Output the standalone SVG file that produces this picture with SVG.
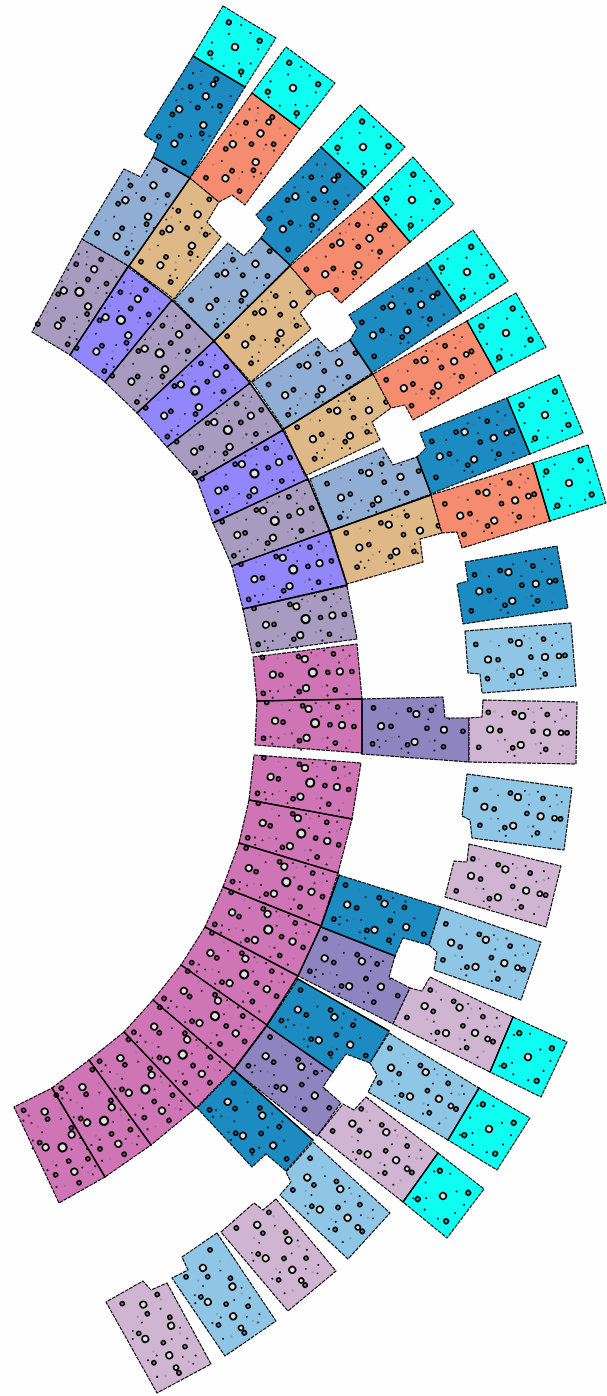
<svg xmlns="http://www.w3.org/2000/svg" width="607" height="1396" viewBox="0 0 607 1396">
<style>
polygon{stroke:#000;stroke-width:1.1;stroke-dasharray:4 .9;stroke-linejoin:round}
.cy{fill:#10fff2}.bl{fill:#1a8bc2}.or{fill:#f58c6f}.st{fill:#90aed3}.ta{fill:#deb887}.gr{fill:#a79bbf}.vi{fill:#9286fa}.pk{fill:#cf74b5}.pu{fill:#8e85c0}.lb{fill:#8fc5e5}.li{fill:#cfb5d1}
.w{fill:#e4e4e4;stroke:#000;stroke-width:1.7}
.k{fill:#444;fill-opacity:.5;stroke:#000;stroke-width:1.6}
.t{fill:#000}
.f{fill:#666;opacity:.35}
.seam{fill:none;stroke:#000;stroke-width:1.5;stroke-linecap:round;stroke-linejoin:round}
</style>
<defs>
<filter id="soft" x="-2%" y="-2%" width="104%" height="104%"><feGaussianBlur stdDeviation="0.55"/></filter>
<g id="tiny">
<circle class="t" cx="19" cy="-23" r="1"/><circle class="t" cx="19" cy="12" r="1"/><circle class="t" cx="19" cy="22" r="1"/><circle class="t" cx="-7" cy="25" r="1"/><circle class="t" cx="-20" cy="-14" r=".9"/><circle class="t" cx="-14" cy="21" r=".9"/><circle class="t" cx="6" cy="-22" r=".9"/><circle class="t" cx="33" cy="-10" r=".9"/><circle class="t" cx="12" cy="-9" r=".9"/><circle class="t" cx="-17" cy="9" r=".9"/>
<circle class="f" cx="-28" cy="-19" r="1.2"/><circle class="f" cx="11" cy="-19" r="1.2"/><circle class="f" cx="14" cy="13" r="1.2"/><circle class="f" cx="-24" cy="10" r="1.2"/>
</g>
<g id="tiny-in"><circle class="t" cx="-38" cy="13" r="1"/><circle class="t" cx="-36" cy="20" r="1"/><circle class="t" cx="-30" cy="14" r=".9"/></g>
<g id="tiny-out"><circle class="t" cx="38" cy="-22" r="1"/><circle class="t" cx="38" cy="22" r="1"/><circle class="t" cx="44" cy="-16" r=".9"/><circle class="f" cx="40" cy="-13" r="1.2"/><circle class="f" cx="41" cy="14" r="1.2"/></g>
<g id="p1">
<use href="#tiny"/><use href="#tiny-in"/><use href="#tiny-out"/>
<circle class="w" cx="-34" cy="-3" r="3.2"/><circle class="w" cx="-1" cy="-16" r="3.2"/><circle class="w" cx="-2" cy="13" r="3.2"/><circle class="w" cx="33" cy="-1" r="3.2"/>
<circle class="w" cx="6" cy="-2" r="4" style="stroke-width:2.2"/>
<circle class="k" cx="-43" cy="-21" r="2"/><circle class="k" cx="-7" cy="-19" r="2"/><circle class="k" cx="-26" cy="-2" r="2"/><circle class="k" cx="21" cy="-1" r="2"/><circle class="k" cx="45" cy="0" r="2"/><circle class="k" cx="28" cy="-19" r="2"/><circle class="k" cx="-45" cy="15" r="2"/><circle class="k" cx="-9" cy="16" r="2"/><circle class="k" cx="27" cy="17" r="2"/>
</g>
<g id="p2c">
<use href="#tiny"/><use href="#tiny-in"/>
<circle class="w" cx="-35" cy="-1" r="3.2"/><circle class="w" cx="0" cy="-14" r="3.2"/><circle class="w" cx="-1" cy="14" r="3.2"/><circle class="w" cx="28" cy="1" r="3.2"/>
<circle class="k" cx="-25" cy="-1" r="2"/><circle class="k" cx="-7" cy="-18" r="2"/><circle class="k" cx="-43" cy="-19" r="2"/><circle class="k" cx="-43" cy="17" r="2"/><circle class="k" cx="-8" cy="17" r="2"/><circle class="k" cx="11" cy="0" r="2"/><circle class="k" cx="47" cy="2" r="2"/>
</g>
<g id="p2"><use href="#p2c"/><circle class="k" cx="15" cy="-18" r="2"/><circle class="k" cx="28" cy="18" r="2"/></g>
<g id="p2n"><use href="#p2c"/><circle class="k" cx="20" cy="-17" r="2"/><circle class="k" cx="16" cy="19" r="2"/></g>
<g id="p3c">
<use href="#tiny"/><use href="#tiny-out"/>
<circle class="w" cx="-32" cy="-1" r="3.2"/><circle class="w" cx="0" cy="-15" r="3.2"/><circle class="w" cx="-1" cy="14" r="3.2"/><circle class="w" cx="25" cy="1" r="3.2"/>
<circle class="w" cx="39" cy="1" r="2.4"/><circle class="k" cx="45" cy="1" r="2.1"/>
<circle class="k" cx="-22" cy="0" r="2"/><circle class="k" cx="-8" cy="-18" r="2"/><circle class="k" cx="25" cy="-17" r="2"/><circle class="k" cx="-9" cy="17" r="2"/><circle class="k" cx="11" cy="0" r="2"/><circle class="k" cx="24" cy="18" r="2"/>
</g>
<g id="p3"><use href="#p3c"/><circle class="k" cx="-34" cy="-18" r="2"/><circle class="k" cx="-43" cy="17" r="2"/></g>
<g id="p3m"><use href="#p3c"/><circle class="k" cx="-34" cy="18" r="2"/><circle class="k" cx="-43" cy="-17" r="2"/></g>
<g id="p4">
<circle class="w" cx="0" cy="0" r="3.2"/>
<circle class="k" cx="18" cy="-18" r="2.3"/><circle class="k" cx="18" cy="18" r="2.3"/><circle class="k" cx="-18" cy="-18" r="2.3"/><circle class="k" cx="-18" cy="18" r="2.3"/>
<circle class="t" cx="-8" cy="-22" r="1"/><circle class="t" cx="-22" cy="0" r="1"/><circle class="t" cx="10" cy="21" r="1"/><circle class="t" cx="20" cy="6" r="1"/><circle class="t" cx="-12" cy="12" r="1"/><circle class="t" cx="8" cy="-12" r="1"/><circle class="t" cx="-22" cy="-14" r="1"/><circle class="t" cx="-22" cy="20" r="1"/><circle class="t" cx="-6" cy="22" r="1"/><circle class="t" cx="22" cy="-6" r="1"/>
</g>
</defs>
<rect width="607" height="1396" fill="#fefefe"/>
<g filter="url(#soft)">
<g id="grey-a"><polygon class="gr" points="82,239 128,266 70,355 32,332"/><use href="#p1" transform="translate(78 298) rotate(-59)"/></g>
<g id="violet-a"><polygon class="vi" points="128,267 172,300 105,382 70,355"/><use href="#p1" transform="translate(119 326) rotate(-53.5)"/></g>
<g id="grey-b"><polygon class="gr" points="172,300 214,341 137,413 105,382"/><use href="#p1" transform="translate(157 359) rotate(-46.5)"/></g>
<g id="violet-b"><polygon class="vi" points="214,341 250,383 167,447 137,413"/><use href="#p1" transform="translate(192 396) rotate(-40.4)"/></g>
<g id="grey-c"><polygon class="gr" points="250,383 283,430 197,480 167,447"/><use href="#p1" transform="translate(224 435) rotate(-34)"/></g>
<g id="violet-c"><polygon class="vi" points="283,430 308,479 213,523 197,480"/><use href="#p1" transform="translate(250 478) rotate(-27)"/></g>
<g id="grey-d"><polygon class="gr" points="308,479 329,531 232,566 213,523"/><use href="#p1" transform="translate(270 525) rotate(-22)"/></g>
<g id="violet-d"><polygon class="vi" points="329,531 347,585 243,609 232,566"/><use href="#p1" transform="translate(288 573) rotate(-15.5)"/></g>
<g id="grey-e"><polygon class="gr" points="347,586 357,639 252,653 243,609"/><use href="#p1" transform="translate(300 622) rotate(-9.7)"/></g>
<g id="pink-k"><polygon class="pk" points="253,657 357,644 362,699 257,701"/><use href="#p1" transform="translate(307 675) rotate(-4.4)"/></g>
<g id="pink-l"><polygon class="pk" points="257,701 362,699 362,753 255,745"/><use href="#p1" transform="translate(309 725) rotate(2)"/></g>
<g id="pink-o"><polygon class="pk" points="254,755 361,763 352,819 249,800"/><use href="#p1" transform="translate(304 784) rotate(7)"/></g>
<g id="pink-p"><polygon class="pk" points="249,800 352,819 338,873 239,843"/><use href="#p1" transform="translate(295 834) rotate(13.9)"/></g>
<g id="pink-q"><polygon class="pk" points="239,843 338,873 321,926 223,887"/><use href="#p1" transform="translate(280 882) rotate(19)"/></g>
<g id="pink-r"><polygon class="pk" points="223,887 321,926 298,976 205,927"/><use href="#p1" transform="translate(262 929) rotate(24)"/></g>
<g id="pink-s"><polygon class="pk" points="205,927 298,976 267,1025 181,965"/><use href="#p1" transform="translate(238 973) rotate(31)"/></g>
<g id="pink-t"><polygon class="pk" points="181,965 267,1025 234,1069 153,1000"/><use href="#p1" transform="translate(209 1014) rotate(37.6)"/></g>
<g id="pink-u"><polygon class="pk" points="153,1000 234,1069 196,1108 124,1032"/><use href="#p1" transform="translate(177 1052) rotate(43)"/></g>
<g id="pink-v"><polygon class="pk" points="124,1032 196,1108 151,1145 89,1060"/><use href="#p1" transform="translate(140 1086) rotate(50)"/></g>
<g id="pink-w"><polygon class="pk" points="89,1060 151,1145 105,1177 52,1088"/><use href="#p1" transform="translate(99 1117) rotate(56)"/></g>
<g id="pink-x"><polygon class="pk" points="52,1088 105,1177 59,1203 14,1107"/><use href="#p1" transform="translate(58 1143) rotate(62)"/></g>

<g id="steel-a"><polygon class="st" points="153,157 190,178 129,266 82,239 124,169 141,177"/><use href="#p2" transform="translate(137 208) rotate(-56)"/></g>
<g id="tan-a"><polygon class="ta" points="190,178 219,202 207,222 221,237 174,299 129,266"/><use href="#p2n" transform="translate(181 237) rotate(-55.5)"/></g>
<g id="steel-b"><polygon class="st" points="261,238 290,265 214,341 174,300 228,243 244,256"/><use href="#p2" transform="translate(235 283) rotate(-45)"/></g>
<g id="tan-b"><polygon class="ta" points="290,266 316,296 300,313 311,329 251,382 214,341"/><use href="#p2n" transform="translate(272 322) rotate(-41.5)"/></g>
<g id="steel-c"><polygon class="st" points="350,340 372,373 284,429 252,382 317,338 330,352"/><use href="#p2" transform="translate(315 377) rotate(-33)"/></g>
<g id="tan-c"><polygon class="ta" points="373,374 391,408 372,422 380,440 305,476 284,429"/><use href="#p2n" transform="translate(344 423) rotate(-29)"/></g>
<g id="steel-d"><polygon class="st" points="310,479 383,448 393,465 417,457 431,494 330,531"/><use href="#p2" transform="translate(374 486) rotate(-21)"/></g>
<g id="tan-d"><polygon class="ta" points="330,531 431,495 442,533 420,539 423,562 347,584"/><use href="#p2n" transform="translate(393 538) rotate(-17.5)"/></g>
<g id="purple-m"><polygon class="pu" points="362,699 443,697 445,718 469,718 469,762 362,754"/><use href="#p2" transform="translate(416 728) rotate(1.5)"/></g>
<g id="blue-y"><polygon class="bl" points="339,875 441,907 429,945 403,938 395,956 321,927"/><use href="#p2n" transform="translate(380 917) rotate(19)"/></g>
<g id="purple-z"><polygon class="pu" points="321,927 395,956 389,977 410,988 393,1024 298,976"/><use href="#p2" transform="translate(356 974) rotate(25)"/></g>
<g id="blue-ad"><polygon class="bl" points="298,979 389,1031 370,1063 346,1054 333,1072 267,1026"/><use href="#p2n" transform="translate(327 1029) rotate(32)"/></g>
<g id="purple-ae"><polygon class="pu" points="267,1026 333,1072 323,1087 341,1103 317,1136 234,1070"/><use href="#p2" transform="translate(293 1078) rotate(37)"/></g>
<g id="blue-aj"><polygon class="bl" points="234,1070 313,1140 286,1171 266,1154 252,1167 197,1108"/><use href="#p2n" transform="translate(253 1126) rotate(42)"/></g>

<g id="blue-a"><polygon class="bl" points="193,56 245,87 190,178 153,157 158,144 144,135"/><use href="#p3" transform="translate(192 117) rotate(-58.5)"/></g>
<g id="orange-b"><polygon class="or" points="252,93 300,129 245,205 232,195 219,202 190,178"/><use href="#p3m" transform="translate(245 153) rotate(-54)"/></g>
<g id="blue-c"><polygon class="bl" points="321,147 365,188 290,265 261,238 267,228 256,215"/><use href="#p3" transform="translate(306 207) rotate(-45.5)"/></g>
<g id="orange-d"><polygon class="or" points="372,197 410,242 341,303 329,291 316,296 290,266"/><use href="#p3m" transform="translate(350 254) rotate(-41)"/></g>
<g id="blue-e"><polygon class="bl" points="427,263 461,313 372,373 350,340 357,328 349,315"/><use href="#p3" transform="translate(400 318) rotate(-34.5)"/></g>
<g id="orange-f"><polygon class="or" points="467,321 496,373 413,420 405,405 391,408 373,374"/><use href="#p3m" transform="translate(432 373) rotate(-30)"/></g>
<g id="blue-g"><polygon class="bl" points="507,398 530,454 431,494 417,457 426,448 420,433"/><use href="#p3" transform="translate(470 446) rotate(-21)"/></g>
<g id="orange-h"><polygon class="or" points="533,463 550,521 462,548 457,532 442,533 431,495"/><use href="#p3m" transform="translate(491 507) rotate(-17.6)"/></g>
<g id="blue-i"><polygon class="bl" points="465,562 557,546 568,608 463,624 457,584 468,581"/><use href="#p3" transform="translate(511 587) rotate(-9.5)"/></g>
<g id="light-j"><polygon class="lb" points="465,631 571,623 576,686 482,693 480,674 468,673"/><use href="#p3m" transform="translate(520 658) rotate(-4.5)"/></g>
<g id="lilac-n"><polygon class="li" points="483,700 577,702 576,764 469,762 469,718 482,717"/><use href="#p3" transform="translate(522 731) rotate(1)"/></g>
<g id="light-lone"><polygon class="lb" points="467,774 572,788 564,850 472,838 470,820 462,816"/><use href="#p3m" transform="translate(516 812) rotate(7.6)"/></g>
<g id="lilac-lone"><polygon class="li" points="469,844 561,866 546,927 445,897 454,861 467,862"/><use href="#p3" transform="translate(502 884) rotate(13)"/></g>
<g id="light-aa"><polygon class="lb" points="441,907 541,942 521,1000 434,970 437,952 429,945"/><use href="#p3m" transform="translate(481 954) rotate(19)"/></g>
<g id="lilac-ab"><polygon class="li" points="430,977 513,1017 490,1072 393,1024 410,988 422,991"/><use href="#p3" transform="translate(453 1021) rotate(26)"/></g>
<g id="light-af"><polygon class="lb" points="389,1033 479,1088 448,1140 368,1092 377,1075 370,1063"/><use href="#p3m" transform="translate(418 1085) rotate(31)"/></g>
<g id="lilac-ag"><polygon class="li" points="366,1097 438,1153 403,1202 318,1135 343,1104 354,1110"/><use href="#p3" transform="translate(377 1144) rotate(38)"/></g>
<g id="light-ak"><polygon class="lb" points="313,1142 390,1213 348,1259 280,1195 291,1182 286,1172"/><use href="#p3m" transform="translate(330 1200) rotate(43)"/></g>
<g id="lilac-al"><polygon class="li" points="276,1199 336,1271 288,1311 221,1232 254,1203 263,1210"/><use href="#p3" transform="translate(277 1250) rotate(50)"/></g>
<g id="light-am"><polygon class="lb" points="217,1233 276,1321 225,1356 172,1278 188,1270 182,1257"/><use href="#p3m" transform="translate(220 1295) rotate(56)"/></g>
<g id="lilac-an"><polygon class="li" points="167,1283 211,1364 157,1393 106,1302 143,1281 151,1290"/><use href="#p3" transform="translate(158 1333) rotate(61)"/></g>

<g id="cyan-a"><polygon class="cy" points="223,6 276,38 245,87 193,56"/><use href="#p4" transform="translate(235 47) rotate(-59)"/></g>
<g id="cyan-b"><polygon class="cy" points="286,47 335,83 300,129 252,93"/><use href="#p4" transform="translate(293 88) rotate(-53.5)"/></g>
<g id="cyan-c"><polygon class="cy" points="360,105 405,147 365,188 321,147"/><use href="#p4" transform="translate(363 147) rotate(-47)"/></g>
<g id="cyan-d"><polygon class="cy" points="413,157 454,204 410,242 372,197"/><use href="#p4" transform="translate(412 200) rotate(-42)"/></g>
<g id="cyan-e"><polygon class="cy" points="473,230 508,281 461,313 427,263"/><use href="#p4" transform="translate(467 272) rotate(-35.6)"/></g>
<g id="cyan-f"><polygon class="cy" points="516,293 546,347 496,373 467,321"/><use href="#p4" transform="translate(506 333) rotate(-29.7)"/></g>
<g id="cyan-g"><polygon class="cy" points="559,375 583,433 530,454 507,398"/><use href="#p4" transform="translate(545 415) rotate(-22)"/></g>
<g id="cyan-h"><polygon class="cy" points="588,445 606,503 550,521 533,463"/><use href="#p4" transform="translate(569 483) rotate(-18)"/></g>
<g id="cyan-ac"><polygon class="cy" points="513,1017 567,1042 541,1097 490,1072"/><use href="#p4" transform="translate(528 1057) rotate(25)"/></g>
<g id="cyan-ah"><polygon class="cy" points="479,1088 530,1118 497,1170 448,1140"/><use href="#p4" transform="translate(489 1129) rotate(31)"/></g>
<g id="cyan-ai"><polygon class="cy" points="438,1153 484,1189 447,1238 403,1202"/><use href="#p4" transform="translate(443 1196) rotate(38)"/></g>
<g id="seams"><path class="seam" d="M257 701L362 699M249 800L352 819M239 843L338 873M223 887L321 926M205 927L298 976M181 965L267 1025M153 1000L234 1069M124 1032L196 1108M89 1060L151 1145M52 1088L105 1177M128 267L70 355M172 300L105 382M214 341L137 413M250 383L167 447M283 430L197 480M308 479L213 523M329 531L232 566M347 585L243 609M190 178L129 266M290 266L214 341M373 374L284 429M431 495L330 531M129 266L172 300L214 341L250 383L283 430L308 479L330 531L347 585M362 699L362 754M339 875L321 926L298 976L267 1025L234 1069M321 927L395 956M267 1026L333 1072M234 1070L313 1140M298 979L389 1031M193 56L245 87M252 93L300 129M321 147L365 188M372 197L410 242M427 263L461 313M467 321L496 373M507 398L530 454M533 463L550 521M513 1017L490 1072M479 1088L448 1140M438 1153L403 1202M153 157L190 178M261 238L290 265M350 340L372 373M417 457L431 494"/></g>
</g>
</svg>
